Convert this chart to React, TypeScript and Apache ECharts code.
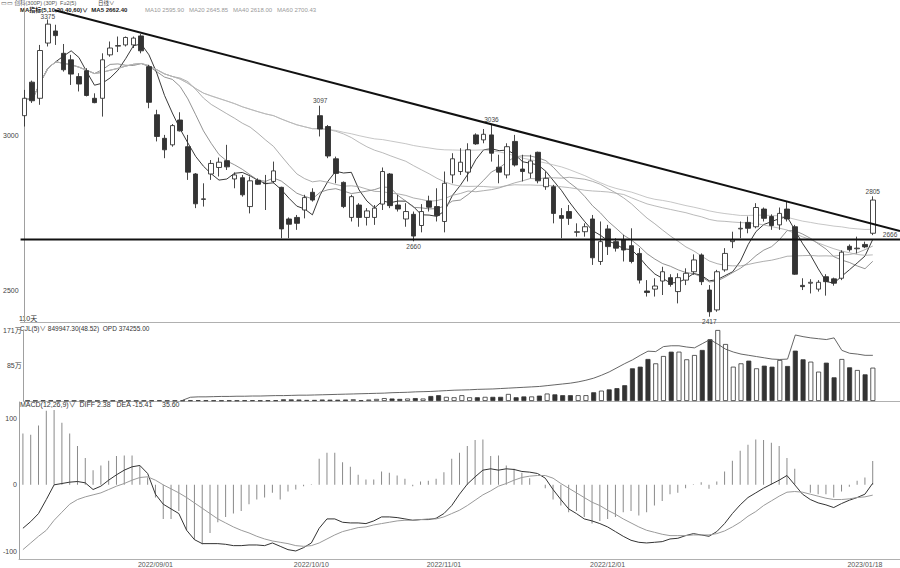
import React, { useEffect, useRef } from 'react';
import * as echarts from 'echarts';

// ---------- data ----------
const opens = [
  3065, 3173, 3121, 3299, 3338, 3266, 3245, 3191, 3210, 3121,
  3121, 3261, 3289, 3293, 3293, 3322, 3223, 3068, 2992, 2971,
  3051, 2965, 2877, 2795, 2877, 2898, 2920, 2861, 2865, 2772,
  2857, 2846, 2853, 2834, 2732, 2737, 2761, 2818, 3065, 3030,
  2926, 2850, 2737, 2777, 2737, 2737, 2780, 2877, 2777, 2732,
  2747, 2711, 2790, 2772, 2724, 2874, 2885, 2883, 3003, 2987,
  3003, 2899, 2874, 2982, 2893, 2880, 2947, 2836, 2836, 2743,
  2756, 2689, 2691, 2732, 2595, 2700, 2659, 2664, 2646, 2621,
  2500, 2506, 2532, 2543, 2498, 2535, 2562, 2616, 2503, 2439,
  2568, 2659, 2700, 2721, 2707, 2764, 2740, 2713, 2764, 2707,
  2518, 2525, 2506, 2546, 2539, 2541, 2644, 2636, 2650, 2686,
];
const closes = [
  3121, 3113, 3275, 3360, 3323, 3213, 3199, 3167, 3130, 3107,
  3245, 3283, 3291, 3317, 3315, 3274, 3108, 2998, 2955, 3033,
  3016, 2883, 2781, 2797, 2911, 2915, 2900, 2874, 2810, 2855,
  2844, 2847, 2887, 2700, 2715, 2718, 2801, 2793, 3022, 2935,
  2879, 2772, 2804, 2737, 2758, 2767, 2885, 2775, 2764, 2756,
  2677, 2756, 2770, 2743, 2847, 2926, 2915, 2955, 2974, 3005,
  2944, 2883, 2965, 2906, 2885, 2919, 2855, 2863, 2750, 2734,
  2734, 2691, 2707, 2607, 2659, 2643, 2638, 2632, 2595, 2535,
  2495, 2516, 2562, 2521, 2543, 2557, 2600, 2530, 2433, 2562,
  2621, 2664, 2702, 2702, 2769, 2734, 2711, 2750, 2732, 2554,
  2514, 2528, 2528, 2530, 2525, 2625, 2633, 2638, 2642, 2793,
];
const lows = [
  3030, 3106, 3100, 3288, 3293, 3207, 3164, 3143, 3127, 3105,
  3062, 3255, 3270, 3288, 3283, 3266, 3089, 2982, 2928, 2965,
  3014, 2858, 2767, 2772, 2858, 2869, 2890, 2831, 2804, 2750,
  2842, 2761, 2847, 2670, 2670, 2697, 2734, 2788, 2998, 2928,
  2847, 2767, 2724, 2707, 2711, 2713, 2761, 2767, 2756, 2707,
  2660, 2689, 2756, 2724, 2689, 2847, 2874, 2853, 2971, 2976,
  2917, 2847, 2863, 2901, 2853, 2863, 2847, 2826, 2718, 2670,
  2713, 2675, 2675, 2584, 2584, 2616, 2627, 2595, 2589, 2524,
  2482, 2482, 2487, 2514, 2460, 2519, 2552, 2519, 2417, 2433,
  2562, 2638, 2670, 2686, 2702, 2724, 2697, 2697, 2724, 2552,
  2503, 2492, 2498, 2485, 2517, 2535, 2627, 2621, 2638, 2680,
];
const highs = [
  3148, 3178, 3293, 3375, 3358, 3296, 3261, 3202, 3218, 3137,
  3266, 3304, 3320, 3320, 3320, 3328, 3229, 3084, 3003, 3038,
  3076, 3003, 2880, 2847, 2922, 2930, 2971, 2882, 2874, 2869,
  2863, 2874, 2917, 2836, 2737, 2745, 2810, 2831, 3097, 3035,
  2933, 2853, 2810, 2783, 2767, 2777, 2898, 2880, 2810, 2783,
  2756, 2780, 2807, 2831, 2885, 2944, 2960, 2976, 3008, 3022,
  3036, 2939, 2976, 3003, 2939, 2939, 2949, 2885, 2842, 2767,
  2777, 2718, 2718, 2745, 2724, 2713, 2670, 2681, 2702, 2638,
  2535, 2541, 2578, 2554, 2557, 2573, 2618, 2621, 2519, 2568,
  2638, 2691, 2724, 2740, 2783, 2769, 2747, 2769, 2788, 2713,
  2541, 2538, 2535, 2554, 2543, 2631, 2650, 2675, 2659, 2805,
];
// volume, in 万
const volumes = [
  1.2, 1.0, 1.5, 1.4, 1.1, 1.0, 0.9, 0.8, 0.9, 0.8,
  1.3, 1.1, 1.0, 0.9, 0.9, 1.0, 1.4, 1.6, 1.2, 1.1,
  1.5, 1.8, 2.0, 1.6, 1.5, 1.4, 1.5, 1.3, 1.6, 1.8,
  1.4, 1.6, 1.8, 4.0, 3.8, 3.5, 2.5, 2.6, 3.5, 3.2,
  3.0, 3.5, 4.2, 1.8, 3.5, 5.0, 7.0, 6.0, 5.0, 6.0,
  7, 6, 12, 14, 10, 9, 14, 9, 9, 10,
  10, 10, 17, 9, 11, 11, 13, 18, 16, 14,
  14, 14, 14, 21, 25, 28, 31, 38, 78.7, 82.7,
  101.2, 90.7, 108.4, 118.8, 118.8, 100.4, 110.8, 122.9, 148.6, 171,
  137.3, 82.7, 90.7, 97.2, 78.7, 85.1, 82.7, 98.8, 84.3, 121.3,
  100.4, 94.8, 70.7, 92.3, 57, 101.2, 81.1, 74.7, 64.2, 80.3,
];
// second line of the volume panel, in 万 (starts at day 20)
const volLine = [
  null, null, null, null, null, null, null, null, null, null,
  null, null, null, null, null, null, null, null, null, null,
  2, 9, 10, 10, 10.5, 11, 11, 11.5, 11.5, 12,
  12, 12.5, 13, 13, 13.5, 14, 14, 14.5, 15, 15.5,
  16, 16.5, 17, 17.5, 18, 18.5, 19, 20, 20.5, 21,
  22, 22.5, 23, 24, 25, 26, 26.5, 27, 28, 28.5,
  29, 30, 31, 32, 33, 34, 35, 37, 39, 41,
  43, 46, 50, 55, 62, 70, 80, 90, 99, 110,
  120, 119, 131, 133, 133, 130, 128, 138, 148, 137,
  125, 118, 113, 110, 107, 104, 101, 100, 101, 159,
  155, 152, 150, 148, 152, 122, 115, 113, 110, 110,
];
const difValues = [
  -65, -55, -43, -22, 0, 2, 4, 5, 3, -7,
  -2, 7, 15, 22, 27, 29, 17, -14, -29, -36,
  -43, -68, -82, -88, -88, -88, -89, -91, -91, -90,
  -90, -91, -87, -92, -97, -99, -94, -87, -65, -51,
  -51, -56, -57, -57, -58, -54, -48, -48, -49, -51,
  -53, -52, -52, -50, -43, -31, -14, 1, 12, 22,
  24, 22, 24, 23, 20, 19, 17, 10, -7, -22,
  -36, -43, -51, -54, -58, -63, -70, -77, -83, -86,
  -87, -86, -85, -81, -80, -76, -73, -75, -77, -70,
  -58, -43, -30, -19, -12, -5, 1, 7, 14, 0,
  -14, -22, -27, -30, -34, -28, -23, -19, -14, 2.38,
];
const deaValues = [
  -97, -87, -77, -68, -53, -41, -29, -22, -18, -15,
  -12, -7, -2, 2, 7, 11, 12, 7, 0, -6,
  -12, -19, -27, -35, -43, -51, -57, -63, -68, -72,
  -77, -81, -84, -86, -88, -91, -92, -91, -87, -81,
  -75, -70, -67, -64, -63, -60, -58, -56, -54, -53,
  -53, -52, -51, -51, -48, -43, -38, -31, -23, -15,
  -9, -2, 2, 7, 11, 13, 14, 14, 10, 2,
  -5, -12, -19, -26, -31, -38, -44, -51, -57, -63,
  -68, -71, -74, -76, -76, -76, -75, -75, -75, -73,
  -69, -63, -56, -47, -40, -31, -24, -17, -11, -10,
  -11, -14, -17, -20, -22, -22, -21, -19, -18, -15.41,
];
const macdValues = [
  77, 75, 89, 111, 112, 93, 77, 58, 40, 22,
  29, 36, 43, 44, 44, 29, 11, -19, -51, -51,
  -39, -68, -82, -89, -72, -56, -48, -43, -39, -29,
  -22, -19, -12, -22, -10, -7, -2, 1, 39, 48,
  48, 34, 27, 15, 8, 8, 20, 18, 14, 9,
  -2, 5, 6, 9, 19, 39, 48, 58, 67, 68,
  43, 44, 29, 24, 18, 10, 0, -5, -22, -31,
  -41, -39, -48, -58, -54, -51, -48, -41, -39, -46,
  -41, -31, -24, -14, -12, -5, 1, 4, -6, 5,
  20, 36, 51, 60, 68, 67, 63, 58, 40, 24,
  0, -12, -14, -14, -19, -10, -3, 6, 11, 35.6,
];

const maPeriods = [5, 10, 20, 40, 60];
const maColors = ['#222222', '#777777', '#999999', '#a8a8a8', '#b8b8b8'];
const extraSlots = 3;
const dateLabels = ['2022/09/01', '2022/10/10', '2022/11/01', '2022/12/01', '2023/01/18'];
const dateLabelIdx = [17, 37, 54, 75, 108];
const priceTicks = [2500, 3000];
const volTicks = [85.5, 171];
const volTickLabels = ['85万', '171万'];
const macdTicks = [-100, 0, 100];
const peakIdx = [3, 38, 60, 50, 88, 109];
const peakValues = [3375, 3097, 3036, 2660, 2417, 2805];
const peakPos = ['top', 'top', 'top', 'bottom', 'bottom', 'top'];
const supportLevel = 2666;
const trendStart = [3.9, 3405];
const trendEnd = [112.5, 2693];

const FONT = '"Liberation Sans", "Noto Sans CJK SC", sans-serif';

function movingAverage(p: number) {
  return closes.map((_, i) => {
    const s = Math.max(0, i - p + 1);
    let sum = 0;
    for (let k = s; k <= i; k++) sum += closes[k];
    return +(sum / (i - s + 1)).toFixed(2);
  });
}

export default function App() {
  const ref = useRef<HTMLDivElement>(null);
  useEffect(() => {
    if (!ref.current) return;
    const chart = echarts.init(ref.current, null, { renderer: 'svg' });
    const total = closes.length + extraSlots;
    const cats = Array.from({ length: total }, (_, i) => String(i));
    const candleData = closes.map((c, i) => [opens[i], c, lows[i], highs[i]]);
    const volData = volumes.map((v, i) => ({
      value: v,
      itemStyle: {
        color: closes[i] >= opens[i] ? '#ffffff' : '#333333',
        borderColor: '#333333',
        borderWidth: 0.8,
      },
    }));
    const labelMap: Record<number, string> = {};
    dateLabelIdx.forEach((idx, k) => (labelMap[idx] = dateLabels[k]));
    const axisLine = { show: true, lineStyle: { color: '#b0b0b0', width: 1 } };
    const yLine = { show: true, lineStyle: { color: '#a0a0a0', width: 1 } };
    const small = { fontSize: 7, color: '#444', fontFamily: FONT };

    const catAxis = (grid: number, showLabels: boolean) => ({
      type: 'category',
      gridIndex: grid,
      data: cats,
      boundaryGap: true,
      axisLine: { ...axisLine, onZero: false },
      axisTick: { show: false },
      splitLine: { show: false },
      axisLabel: showLabels
        ? {
            ...small,
            fontSize: 7,
            color: '#555',
            margin: 2,
            interval: 0,
            formatter: (_v: string, idx: number) => labelMap[idx] || '',
          }
        : { show: false },
    });

    const maSeries = maPeriods.map((p, k) => ({
      type: 'line',
      name: 'MA' + p,
      xAxisIndex: 0,
      yAxisIndex: 0,
      data: movingAverage(p),
      symbol: 'none',
      silent: true,
      lineStyle: { color: maColors[k], width: k === 0 ? 0.9 : 0.8 },
      z: 3,
    }));

    chart.setOption({
      animation: false,
      backgroundColor: '#ffffff',
      grid: [
        { left: 18, width: 882, top: 8, height: 314 },
        { left: 18, width: 882, top: 330, height: 71 },
        { left: 18, width: 882, top: 402, height: 159 },
      ],
      xAxis: [
        catAxis(0, false),
        catAxis(1, false),
        catAxis(2, true),
        { type: 'value', gridIndex: 0, min: -0.5, max: total - 0.5, show: false },
      ],
      yAxis: [
        {
          type: 'value',
          gridIndex: 0,
          min: 2400,
          max: 3412,
          axisLine: yLine,
          axisTick: { show: false },
          splitLine: { show: false },
          axisLabel: { ...small, margin: 2, customValues: priceTicks, formatter: (v: number) => String(v) },
        },
        {
          type: 'value',
          gridIndex: 1,
          min: 0,
          max: 171,
          axisLine: yLine,
          axisTick: { show: false },
          splitLine: { show: false },
          axisLabel: {
            ...small,
            margin: 2,
            customValues: volTicks,
            formatter: (v: number) => {
              const k = volTicks.indexOf(v);
              return k >= 0 ? volTickLabels[k] : '';
            },
          },
        },
        {
          type: 'value',
          gridIndex: 2,
          min: -111,
          max: 124,
          axisLine: yLine,
          axisTick: { show: false },
          splitLine: { show: false },
          axisLabel: { ...small, margin: 2, customValues: macdTicks, formatter: (v: number) => String(v) },
        },
      ],
      series: [
        {
          type: 'candlestick',
          xAxisIndex: 0,
          yAxisIndex: 0,
          data: candleData,
          barWidth: 5,
          itemStyle: {
            color: '#ffffff',
            color0: '#333333',
            borderColor: '#333333',
            borderColor0: '#333333',
            borderWidth: 0.9,
          },
          z: 4,
          markPoint: {
            symbol: 'circle',
            symbolSize: 0,
            silent: true,
            label: { show: true, ...small, fontSize: 6.5, color: '#444', formatter: (p: any) => String(p.value) },
            data: [
              ...peakIdx.map((idx, k) => ({
                coord: [String(idx), peakValues[k]],
                value: peakValues[k],
                label: { position: peakPos[k], distance: k === 0 ? 0 : 2 },
              })),
              {
                coord: [String(total - 1), supportLevel],
                value: supportLevel,
                label: { position: 'top', distance: 2, offset: [-6, 0] },
              },
            ],
          },
        },
        ...maSeries,
        {
          type: 'line',
          xAxisIndex: 3,
          yAxisIndex: 0,
          data: [trendStart, trendEnd],
          symbol: 'none',
          silent: true,
          lineStyle: { color: '#111', width: 2 },
          z: 6,
        },
        {
          type: 'line',
          xAxisIndex: 3,
          yAxisIndex: 0,
          data: [
            [-0.5, supportLevel],
            [total - 0.5, supportLevel],
          ],
          symbol: 'none',
          silent: true,
          lineStyle: { color: '#111', width: 2 },
          z: 6,
        },
        {
          type: 'bar',
          xAxisIndex: 1,
          yAxisIndex: 1,
          data: volData,
          barWidth: 5,
          silent: true,
        },
        {
          type: 'line',
          xAxisIndex: 1,
          yAxisIndex: 1,
          data: volLine,
          symbol: 'none',
          silent: true,
          connectNulls: false,
          lineStyle: { color: '#555', width: 0.9 },
        },
        {
          type: 'bar',
          xAxisIndex: 2,
          yAxisIndex: 2,
          data: macdValues,
          barWidth: 1,
          silent: true,
          itemStyle: { color: '#8a8a8a' },
        },
        {
          type: 'line',
          xAxisIndex: 2,
          yAxisIndex: 2,
          data: difValues,
          symbol: 'none',
          silent: true,
          lineStyle: { color: '#333', width: 1 },
        },
        {
          type: 'line',
          xAxisIndex: 2,
          yAxisIndex: 2,
          data: deaValues,
          symbol: 'none',
          silent: true,
          lineStyle: { color: '#9a9a9a', width: 1 },
        },
      ],
      graphic: [
        { type: 'text', left: 1, top: 0, style: { text: '▭▭ 创科(300P) (30P)  F≥2(5)', fontSize: 5.5, fill: '#555', fontFamily: FONT } },
        { type: 'text', left: 98, top: 0, style: { text: '日线∨', fontSize: 5.5, fill: '#444', fontFamily: FONT } },
        { type: 'text', left: 20, top: 6.5, style: { text: 'MA指标(5,10,20,40,60)∨  MA5 2662.40', fontSize: 6, fontWeight: 'bold', fill: '#222', fontFamily: FONT } },
        { type: 'text', left: 145, top: 6.5, style: { text: 'MA10 2595.90   MA20 2645.85   MA40 2618.00   MA60 2700.43', fontSize: 6, fill: '#999', fontFamily: FONT } },
        { type: 'text', left: 19, top: 315, style: { text: '110天', fontSize: 7, fill: '#333', fontFamily: FONT } },
        { type: 'text', left: 20, top: 325, style: { text: 'CJL(5)∨ 849947.30(48.52)  OPD 374255.00', fontSize: 6.5, fill: '#333', fontFamily: FONT } },
        { type: 'text', left: 20, top: 401, style: { text: 'MACD(12,26,9)∨  DIFF 2.38   DEA -15.41     35.60', fontSize: 7, fill: '#333', fontFamily: FONT } },
      ],
    });
    return () => chart.dispose();
  }, []);
  return (
    <div
      ref={ref}
      style={{ position: 'fixed', left: 0, top: 0, width: 900, height: 568, background: '#fff' }}
    />
  );
}
